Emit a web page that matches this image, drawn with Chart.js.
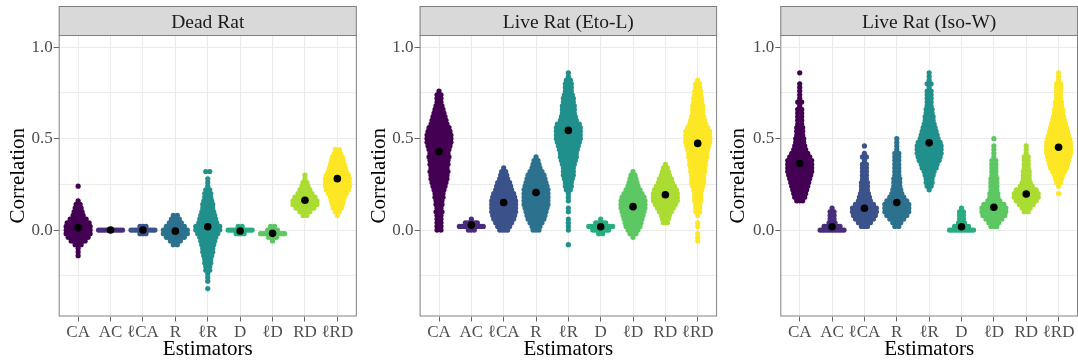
<!DOCTYPE html>
<html>
<head>
<meta charset="utf-8">
<script src="https://cdn.jsdelivr.net/npm/chart.js@4.4.1/dist/chart.umd.min.js"></script>
<style>
  html, body { margin: 0; padding: 0; background: #fff; }
  #wrap { position: relative; width: 1078px; height: 363px; overflow: hidden; }
  canvas { position: absolute; top: 0; }
</style>
</head>
<body>
<div id="wrap">
  <canvas id="deadRat" width="358" height="363" style="left:0px"></canvas>
  <canvas id="etoL" width="360" height="363" style="left:358px"></canvas>
  <canvas id="isoW" width="360" height="363" style="left:718px"></canvas>
</div>
<script>
// estimators on the x axis, in plotting order
const estimators = ['CA', 'AC', 'ℓCA', 'R', 'ℓR', 'D', 'ℓD', 'RD', 'ℓRD'];
const yTicks = [0, 0.5, 1.0];
const yMinor = [-0.25, 0.25, 0.75];

// correlations are binned in steps of 0.02: first bin value + number of runs per bin
const binStep = 0.02;

// Dead Rat
const deadStart = [-0.14, 0.00, -0.02, -0.08, -0.32, -0.02, -0.06, 0.08, 0.08];
const deadCounts = [
  [1,1,1,3,7,10,12,12,12,11,8,5,4,3,2,1,0,0,0,1],
  [12],
  [3,12,3],
  [2,5,9,12,12,9,6,4,2],
  [1,0,1,1,1,2,2,3,3,4,5,5,6,7,8,10,12,12,9,8,7,6,5,5,4,3,3,2,1,1,1,0,2],
  [4,12,2],
  [1,4,12,5,2],
  [2,5,9,12,12,10,7,5,3,2,1,1],
  [1,2,4,5,6,7,9,11,12,12,12,11,9,8,7,6,5,3,2]
];
const deadMeans = [0.013, 0.0, 0.0, -0.006, 0.018, -0.005, -0.018, 0.163, 0.281];

// Live Rat (Eto-L)
const etoStart = [0.00, 0.00, 0.00, 0.00, -0.08, -0.02, -0.04, 0.04, -0.06];
const etoCounts = [
  [2,2,2,2,2,3,2,3,3,4,4,5,6,7,8,8,9,8,9,9,10,9,10,11,12,12,12,11,10,8,7,6,5,4,3,2,2,2,1],
  [3,12,6,1],
  [4,6,8,10,11,12,12,12,12,11,10,8,7,6,4,3,2,1],
  [3,4,6,8,9,10,11,12,12,12,12,12,11,10,9,8,6,4,3,2,1],
  [1,0,0,0,1,1,1,1,0,1,1,0,1,1,1,2,3,3,4,5,5,5,6,7,8,8,9,10,11,12,12,12,12,11,8,7,6,6,6,5,5,4,3,3,3,2,1,1],
  [2,8,12,5,1],
  [1,3,5,7,8,9,10,11,12,12,12,11,9,7,5,4,3,2,1],
  [2,3,4,6,8,10,12,12,12,11,9,7,6,4,3,2,1],
  [1,1,1,0,1,1,0,1,2,2,2,3,3,3,4,5,6,6,6,7,7,8,8,9,9,10,11,12,12,12,12,10,8,7,6,5,5,5,4,4,3,3,2,2,1]
];
const etoMeans = [0.429, 0.027, 0.151, 0.205, 0.545, 0.018, 0.128, 0.193, 0.474];

// Live Rat (Iso-W)
const isoStart = [0.16, 0.00, 0.02, 0.02, 0.22, 0.00, 0.02, 0.10, 0.20];
const isoCounts = [
  [3,5,6,7,8,9,10,11,12,12,12,12,10,8,6,5,4,4,3,3,3,2,2,2,2,2,1,2,1,1,1,1,1,0,0,1],
  [12,8,3,2,2,2,1],
  [3,6,9,11,12,12,9,6,5,4,3,3,3,2,2,2,2,2,1,2,1,0,1],
  [2,4,7,10,12,12,12,10,7,5,4,3,3,3,2,2,2,2,2,2,2,1,1,1,1],
  [1,2,3,3,4,5,7,8,10,11,12,12,12,11,9,8,7,6,5,4,4,3,3,2,2,2,2,2,1,2,1,1,1],
  [12,7,3,2,2,2,1],
  [3,5,8,11,12,12,10,6,4,4,3,3,3,3,2,2,2,2,2,1,1,1,1,0,1],
  [2,4,7,10,12,12,10,6,4,3,3,3,2,2,2,2,1,1,1],
  [1,0,1,2,3,4,6,8,9,10,11,12,12,12,12,11,10,9,8,7,6,5,4,4,3,3,2,2,2,2,2,1,1,1]
];
const isoMeans = [0.364, 0.018, 0.119, 0.151, 0.477, 0.018, 0.125, 0.197, 0.453];

const viridis = ['#440154', '#472D7B', '#3B528B', '#2C728E', '#21908C',
                 '#27AD81', '#5DC863', '#AADC32', '#FDE725'];
const serif = "'Liberation Serif', 'DejaVu Serif', serif";
const maxRow = 12;       // widest row of a swarm
const halfWidth = 0.37;  // in category units

// spread the runs of each bin across the row, width proportional to the count
function swarmPoints(idx, start, counts) {
  const pts = [];
  counts.forEach((n, b) => {
    const y = +(start + b * binStep).toFixed(3);
    const hw = halfWidth * n / maxRow;
    for (let k = 0; k < n; k++) {
      const off = n === 1 ? 0 : -hw + 2 * hw * k / (n - 1);
      pts.push({ x: idx + off, y: y });
    }
  });
  return pts;
}

// grey strip with the facet title plus the panel frame
const panelFrame = {
  id: 'panelFrame',
  afterDraw(chart, args, opts) {
    const { ctx, chartArea: a } = chart;
    ctx.save();
    ctx.fillStyle = '#d9d9d9';
    ctx.fillRect(a.left, 6, a.right - a.left, a.top - 6);
    ctx.strokeStyle = '#808080';
    ctx.lineWidth = 1;
    ctx.strokeRect(a.left + 0.5, 6.5, a.right - a.left - 1, a.top - 6);
    ctx.strokeRect(a.left + 0.5, a.top + 0.5, a.right - a.left - 1, a.bottom - a.top - 1);
    ctx.fillStyle = '#1a1a1a';
    ctx.font = '19.5px ' + serif;
    ctx.textAlign = 'center';
    ctx.textBaseline = 'alphabetic';
    ctx.fillText(opts.title, (a.left + a.right) / 2, 28.3);
    ctx.restore();
  }
};

function makePanel(id, title, starts, counts, means, axisWidth, padRight, titlePad) {
  const datasets = estimators.map((name, i) => ({
    label: name,
    data: swarmPoints(i, starts[i], counts[i]),
    backgroundColor: viridis[i],
    pointRadius: 2.6,
    borderWidth: 0,
    order: 1
  }));
  datasets.push({
    label: 'mean',
    data: means.map((m, i) => ({ x: i, y: m })),
    backgroundColor: '#000',
    pointRadius: 3.8,
    borderWidth: 0,
    order: 0
  });

  return new Chart(document.getElementById(id), {
    type: 'scatter',
    data: { datasets: datasets },
    plugins: [panelFrame],
    options: {
      responsive: false,
      animation: false,
      events: [],
      layout: { padding: { top: 35, right: padRight, left: 0, bottom: 0 }, autoPadding: false },
      plugins: {
        legend: { display: false },
        tooltip: { enabled: false },
        panelFrame: { title: title }
      },
      scales: {
        x: {
          type: 'linear',
          min: -0.6,
          max: 8.6,
          afterBuildTicks: s => { s.ticks = estimators.map((_, i) => ({ value: i })); },
          afterFit: s => { s.height = 46.5; },
          ticks: {
            callback: v => estimators[v],
            color: '#4d4d4d',
            font: { family: serif, size: 17 },
            padding: 1,
            maxRotation: 0,
            autoSkip: false
          },
          grid: { color: '#ebebeb', lineWidth: 1, tickColor: '#666', tickLength: 5 },
          border: { display: false },
          title: {
            display: true,
            text: 'Estimators',
            color: '#000',
            font: { family: serif, size: 21 },
            padding: { top: 0, bottom: 1 }
          }
        },
        y: {
          min: -0.473,
          max: 1.067,
          afterBuildTicks: s => {
            s.ticks = yMinor.concat(yTicks).sort((a, b) => a - b).map(v => ({ value: v }));
          },
          afterFit: s => { s.width = axisWidth; },
          ticks: {
            callback: v => yTicks.includes(v) ? v.toFixed(1) : '',
            color: '#4d4d4d',
            font: { family: serif, size: 17 },
            padding: 1
          },
          grid: {
            color: '#ebebeb',
            lineWidth: 1,
            tickLength: 5,
            tickColor: c => (c.tick && yTicks.includes(c.tick.value)) ? '#666' : 'rgba(0,0,0,0)'
          },
          border: { display: false },
          title: {
            display: true,
            text: 'Correlation',
            color: '#000',
            font: { family: serif, size: 21 },
            padding: { top: titlePad, bottom: 0 }
          }
        }
      }
    }
  });
}

makePanel('deadRat', 'Dead Rat', deadStart, deadCounts, deadMeans, 58.7, 1.2, 5.4);
makePanel('etoL', 'Live Rat (Eto-L)', etoStart, etoCounts, etoMeans, 61.6, 0.9, 8.4);
makePanel('isoW', 'Live Rat (Iso-W)', isoStart, isoCounts, isoMeans, 62.3, 0, 7.7);
</script>
</body>
</html>
